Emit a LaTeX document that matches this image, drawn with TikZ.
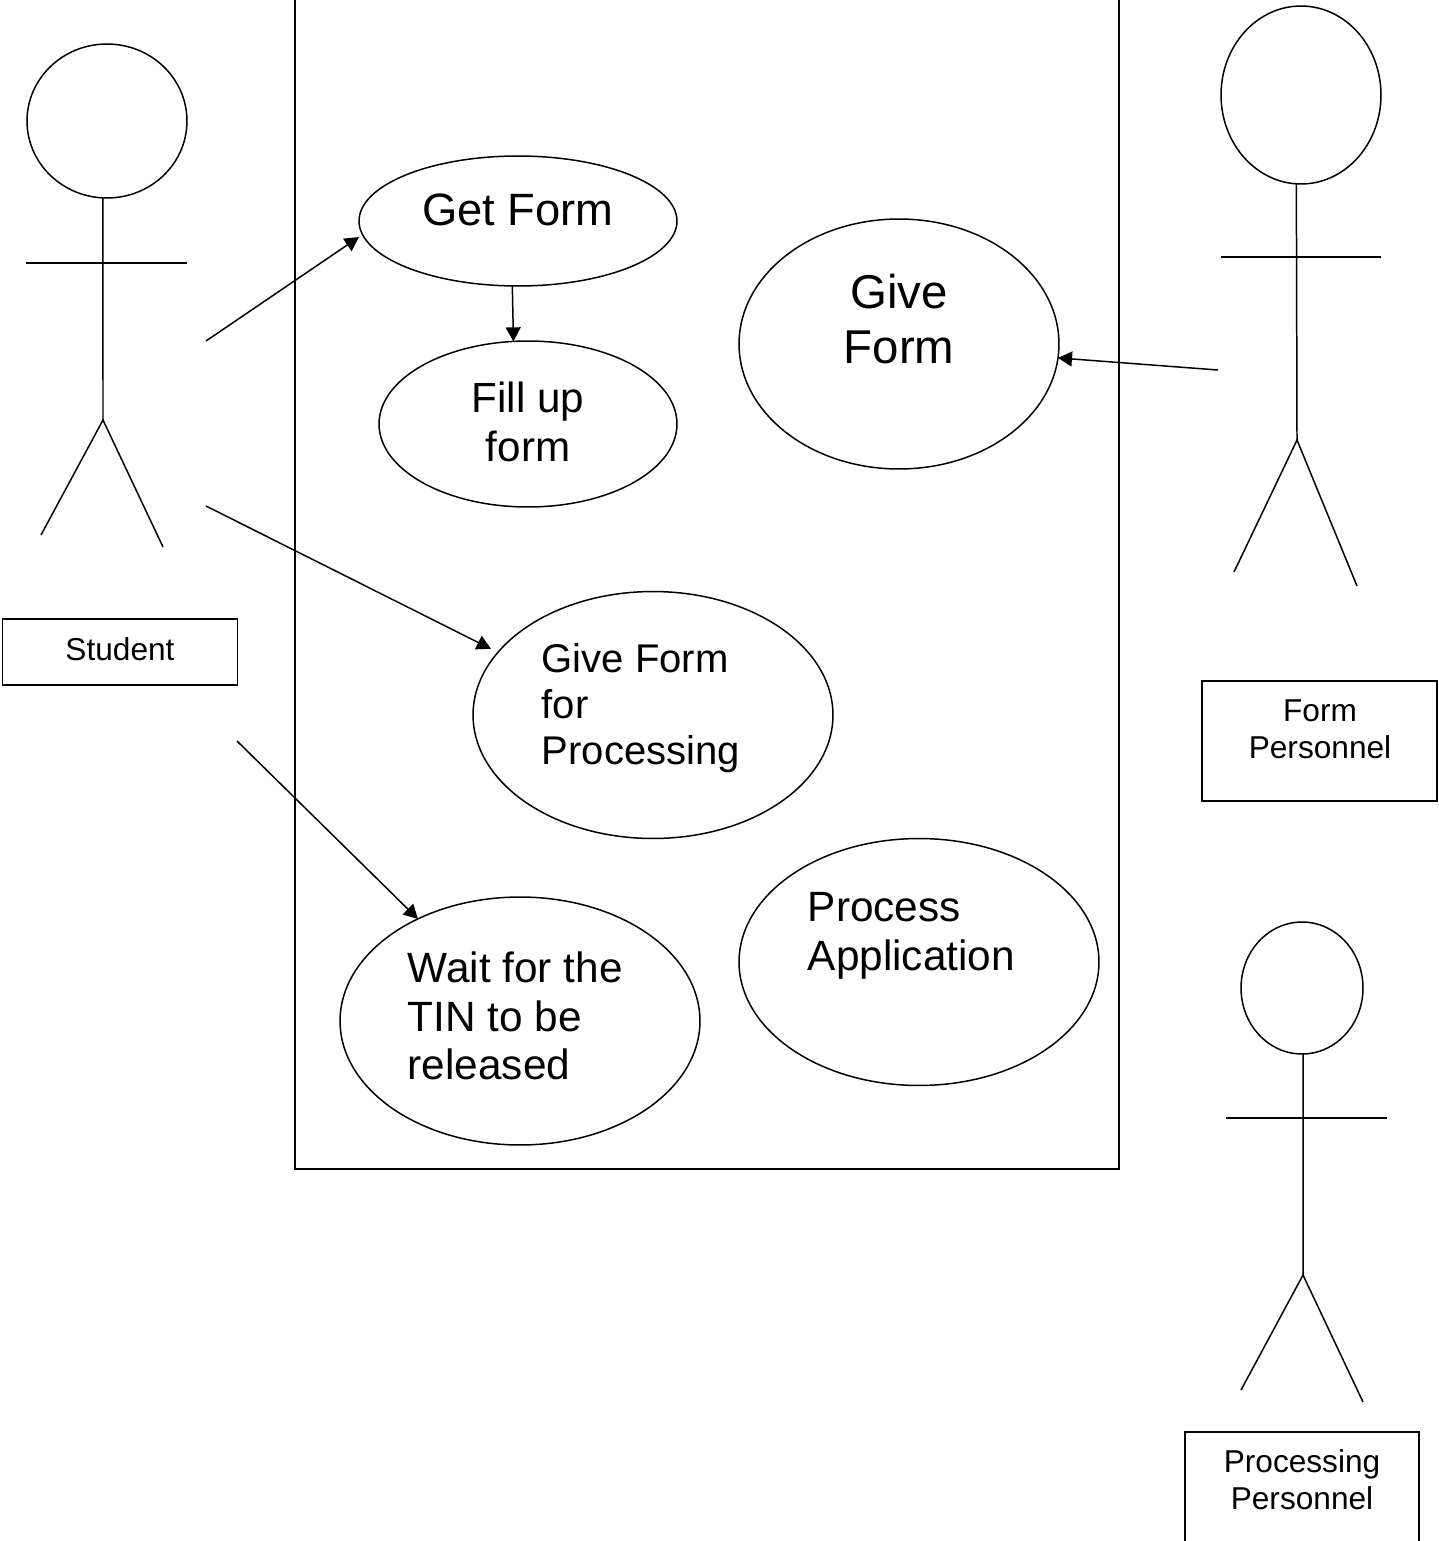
\documentclass[tikz,border=0pt]{standalone}
\usepackage{fontspec}
\setmainfont{Liberation Sans}
\usetikzlibrary{arrows.meta,shapes.geometric}
\tikzset{
  usecase/.style={ellipse, draw=black, inner sep=0pt, outer sep=0pt},
  head/.style={ellipse, draw=black, inner sep=0pt, outer sep=0pt},
  box/.style={rectangle, draw=black, inner sep=0pt, outer sep=0pt},
  boxtext/.style={align=center, inner sep=0pt, font=\fontsize{18}{21}\selectfont},
  uctext/.style={align=left, anchor=west, inner sep=0pt, font=\fontsize{24.1}{27.6}\selectfont},
  assoc/.style={-{Triangle[length=8pt,width=8.5pt]}}
}
\begin{document}
\begin{tikzpicture}[x=0.02cm,y=-0.02cm,line width=0.85pt]
	\useasboundingbox (0,0) rectangle (1438,1541);
	% system boundary
	\draw (295,-5) -- (295,1169) -- (1119,1169) -- (1119,-5);
	% use cases
	\node[usecase,minimum width=6.36cm,minimum height=2.6cm] (getform) at (518,221) {};
	\node[usecase,minimum width=5.96cm,minimum height=3.32cm] (fillform) at (528,424) {};
	\node[usecase,minimum width=6.4cm,minimum height=5cm] (giveform) at (899,344) {};
	\node[usecase,minimum width=7.2cm,minimum height=4.94cm] (giveproc) at (653,715) {};
	\node[usecase,minimum width=7.2cm,minimum height=4.94cm] (process) at (919,962) {};
	\node[usecase,minimum width=7.2cm,minimum height=4.96cm] (waittin) at (520,1021) {};
	\node[inner sep=0pt,font=\fontsize{25.8}{29}\selectfont] (getformtext) at (518,210) {Get Form};
	\node[inner sep=0pt,align=center,font=\fontsize{24}{27.6}\selectfont] (fillformtext) at (528,422) {Fill up\\form};
	\node[inner sep=0pt,align=center,font=\fontsize{27}{31.3}\selectfont] (giveformtext) at (899,319) {Give\\Form};
	\node[uctext,font=\fontsize{22.8}{26}\selectfont] (giveproctext) at (541,708) {Give Form\\for\\Processing};
	\node[uctext] (processtext) at (807,936) {Process\\Application};
	\node[uctext] (waittintext) at (407,1016) {Wait for the\\TIN to be\\released};
	% student
	\node[head,minimum width=3.2cm,minimum height=3.08cm] (studenthead) at (107,121) {};
	\coordinate (studenthip) at (103,420);
	\draw (studenthead.267) -- (studenthip);
	\coordinate (studentarml) at (26,263);
	\coordinate (studentarmr) at (187,263);
	\draw (studentarml) -- (studentarmr);
	\coordinate (studentfootl) at (41,535);
	\coordinate (studentfootr) at (163,547);
	\draw (studentfootl) -- (studenthip) -- (studentfootr);
	\node[box,minimum width=4.7cm,minimum height=1.32cm] (studentbox) at (120,652) {};
	\node[boxtext] (studenttext) at (120,649) {Student};
	% form personnel
	\node[head,minimum width=3.2cm,minimum height=3.56cm] (formhead) at (1301,95) {};
	\coordinate (formhip) at (1297,440);
	\draw (formhead.267) -- (formhip);
	\coordinate (formarml) at (1221,257);
	\coordinate (formarmr) at (1381,257);
	\draw (formarml) -- (formarmr);
	\coordinate (formfootl) at (1234,572);
	\coordinate (formfootr) at (1357,586);
	\draw (formfootl) -- (formhip) -- (formfootr);
	\node[box,minimum width=4.7cm,minimum height=2.4cm] (formbox) at (1319.5,741) {};
	\node[boxtext] (formtext) at (1320,729) {Form\\Personnel};
	% processing personnel
	\node[head,minimum width=2.44cm,minimum height=2.64cm] (prochead) at (1302,988) {};
	\coordinate (prochip) at (1303,1275);
	\draw (prochead.271) -- (prochip);
	\coordinate (procarml) at (1226,1118);
	\coordinate (procarmr) at (1387,1118);
	\draw (procarml) -- (procarmr);
	\coordinate (procfootl) at (1241,1390);
	\coordinate (procfootr) at (1363,1402);
	\draw (procfootl) -- (prochip) -- (procfootr);
	\node[box,minimum width=4.68cm,minimum height=2.24cm] (procbox) at (1302,1488) {};
	\node[boxtext] (proctext) at (1302,1480) {Processing\\Personnel};
	% associations
	\coordinate (studenta) at (206,341);
	\coordinate (studentb) at (206,506);
	\coordinate (studentc) at (237,741);
	\coordinate (forma) at (1218,370);
	\draw[assoc,shorten >=2.5pt] (studenta) -- (getform.185.4);
	\draw[assoc] (getform.265.6) -- (fillform.100.6);
	\draw[assoc,shorten >=4.5pt] (studentb) -- (giveproc.158.8);
	\draw[assoc] (studentc) -- (waittin.135.6);
	\draw[assoc] (forma) -- (giveform.355.4);
\end{tikzpicture}
\end{document}
